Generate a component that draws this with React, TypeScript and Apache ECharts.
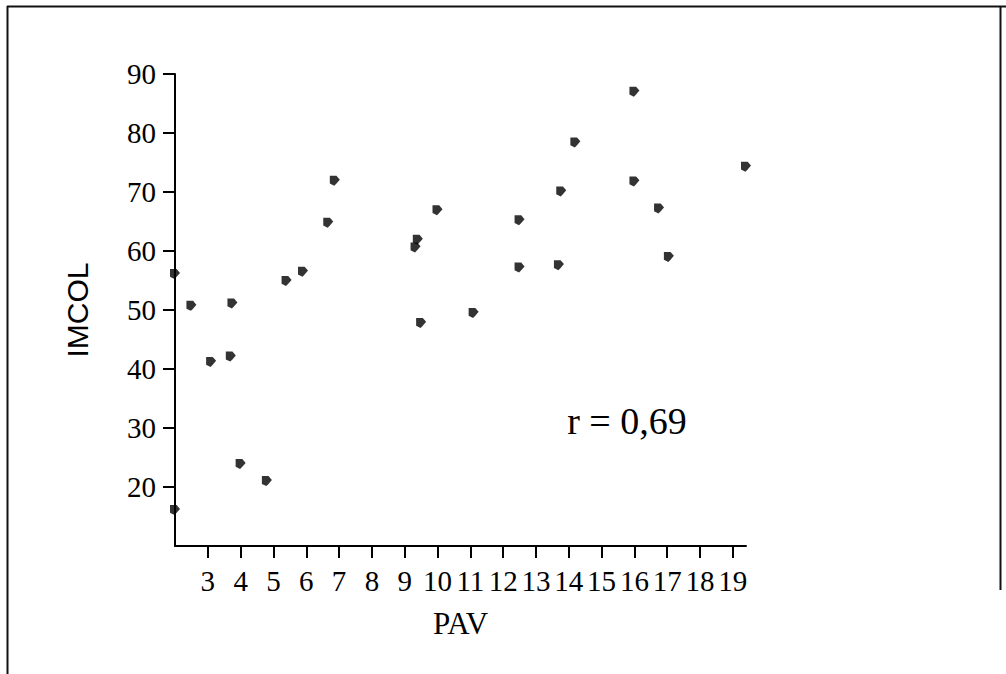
import React, { useEffect, useRef } from "react";
import * as echarts from "echarts";

const pavValues: number[] = [2, 2.5, 3.75, 3.1, 3.7, 4, 4.8, 2, 5.4, 5.9, 6.67, 6.87, 9.33, 9.4, 9.5, 10, 11.1, 12.5, 12.5, 13.7, 13.77, 14.2, 16, 16, 16.75, 17.05, 19.4];
const imcolValues: number[] = [56.1, 50.7, 51.1, 41.2, 42.1, 23.9, 21.0, 16.1, 54.9, 56.5, 64.8, 71.9, 60.6, 61.9, 47.8, 66.9, 49.5, 65.2, 57.2, 57.6, 70.1, 78.4, 87.0, 71.8, 67.2, 59.0, 74.3];
const xTicks: number[] = [3, 4, 5, 6, 7, 8, 9, 10, 11, 12, 13, 14, 15, 16, 17, 18, 19];
const yTicks: number[] = [20, 30, 40, 50, 60, 70, 80, 90];
const xName = "PAV";
const yName = "IMCOL";
const annotation = "r = 0,69";

const SERIF = "'Liberation Serif', 'Times New Roman', serif";
const SANS = "'Liberation Sans', Arial, sans-serif";

export default function App() {
  const ref = useRef<HTMLDivElement>(null);
  useEffect(() => {
    if (!ref.current) return;
    const chart = echarts.init(ref.current, null, { renderer: "svg" });
    const data = pavValues.map((x, i) => [x, imcolValues[i]]);
    chart.setOption({
      animation: false,
      backgroundColor: "#ffffff",
      grid: { left: 175, top: 74, width: 571, height: 472 },
      xAxis: {
        type: "value",
        min: 2,
        max: 19.4,
        interval: 1,
        name: xName,
        nameLocation: "middle",
        nameGap: 62,
        nameTextStyle: { fontFamily: SERIF, fontSize: 31, color: "#000", verticalAlign: "top" },
        axisLine: { show: true, onZero: false, lineStyle: { color: "#000", width: 2 } },
        axisTick: { show: true, length: 12, customValues: xTicks, lineStyle: { color: "#000", width: 2 } },
        axisLabel: {
          customValues: xTicks,
          margin: 20,
          fontFamily: SERIF,
          fontSize: 29,
          color: "#000",
          formatter: (v: number) => String(v),
        },
        splitLine: { show: false },
      },
      yAxis: {
        type: "value",
        min: 10,
        max: 90,
        interval: 10,
        name: yName,
        nameLocation: "middle",
        nameGap: 83,
        nameRotate: 90,
        nameTextStyle: { fontFamily: SANS, fontSize: 30, color: "#000" },
        axisLine: { show: true, onZero: false, lineStyle: { color: "#000", width: 2 } },
        axisTick: { show: true, length: 12, customValues: yTicks, lineStyle: { color: "#000", width: 2 } },
        axisLabel: {
          customValues: yTicks,
          margin: 19,
          fontFamily: SERIF,
          fontSize: 29,
          color: "#000",
        },
        splitLine: { show: false },
      },
      series: [
        {
          type: "scatter",
          data,
          symbol: "path://M0,0 L6,0 L9,3.5 L6,7 L4,9 L0,7 Z",
          symbolSize: [10, 10],
          itemStyle: { color: "#000" },
          clip: false,
        },
      ],
      graphic: [
        { type: "line", shape: { x1: 7, y1: 6.5, x2: 1006, y2: 6.5 }, style: { stroke: "#111", lineWidth: 2 } },
        { type: "line", shape: { x1: 7.5, y1: 6, x2: 7.5, y2: 674 }, style: { stroke: "#111", lineWidth: 2 } },
        { type: "line", shape: { x1: 1000.5, y1: 6, x2: 1000.5, y2: 590 }, style: { stroke: "#111", lineWidth: 2 } },
        {
          type: "text",
          x: 627,
          y: 421,
          style: {
            text: annotation,
            fontFamily: SERIF,
            fontSize: 38,
            fill: "#000",
            align: "center",
            verticalAlign: "middle",
          },
        },
      ],
    });
    return () => chart.dispose();
  }, []);
  return <div ref={ref} style={{ position: "fixed", left: 0, top: 0, width: 1006, height: 674 }} />;
}
